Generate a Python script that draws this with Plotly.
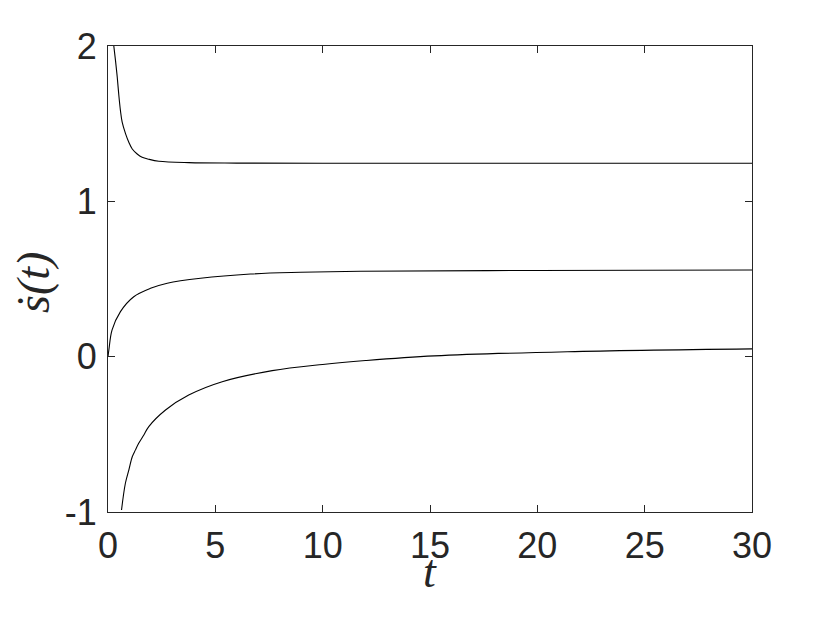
import plotly.graph_objects as go

# ─────────────────────────────────────────────
# DATA
# ─────────────────────────────────────────────
t_upper = [0.27, 0.35, 0.43, 0.50, 0.58, 0.66, 0.82, 0.97, 1.13, 1.36, 1.59, 1.9, 2.37, 3.76, 6.0, 10.0, 20.0, 30.0]
s_upper = [2.0, 1.906, 1.80, 1.69, 1.584, 1.51, 1.434, 1.38, 1.337, 1.305, 1.284, 1.271, 1.258, 1.249, 1.246, 1.245, 1.245, 1.245]

t_middle = [0.0, 0.04, 0.19, 0.58, 1.2, 1.98, 2.76, 4.31, 6.64, 8.97, 11.76, 20.0, 30.0]
s_middle = [0.0, 0.043, 0.172, 0.29, 0.386, 0.44, 0.473, 0.505, 0.532, 0.543, 0.550, 0.555, 0.558]

t_lower = [0.63, 0.81, 0.97, 1.13, 1.28, 1.43, 1.67, 1.9, 2.68, 3.76, 5.32, 7.65, 10.0, 12.0, 15.2, 21.4, 30.0]
s_lower = [-0.987, -0.815, -0.73, -0.644, -0.60, -0.558, -0.504, -0.45, -0.343, -0.247, -0.161, -0.09, -0.05, -0.025, 0.005, 0.032, 0.05]

x_ticks = [0, 5, 10, 15, 20, 25, 30]
y_ticks = [-1, 0, 1, 2]
y_tick_text = ["-1", "0", "1", "2"]

# ─────────────────────────────────────────────
# FIGURE
# ─────────────────────────────────────────────
fig = go.Figure()
for tt, ss in [(t_upper, s_upper), (t_middle, s_middle), (t_lower, s_lower)]:
    fig.add_trace(go.Scatter(
        x=tt, y=ss, mode="lines",
        line=dict(color="black", width=1.1, shape="spline", smoothing=1.0),
        showlegend=False,
    ))

axis_common = dict(
    showline=True, linecolor="#262626", linewidth=1,
    mirror="ticks", ticks="inside", ticklen=7, tickwidth=1, tickcolor="#262626",
    showgrid=False, zeroline=False,
    tickfont=dict(family="Liberation Sans, Arial, sans-serif", size=36, color="#262626"),
)
title_font = dict(family="Liberation Serif, DejaVu Serif, serif", size=46,
                  style="italic", color="#262626")

# page body has an 8px margin, so margins are shifted to compensate
fig.update_layout(
    width=830, height=623,
    margin=dict(l=100, r=86, t=38, b=119),
    paper_bgcolor="white", plot_bgcolor="white",
    xaxis=dict(range=[0, 30], tickvals=x_ticks, ticklabelstandoff=2, **axis_common),
    yaxis=dict(range=[-1, 2], tickvals=y_ticks, ticktext=y_tick_text,
               ticklabelstandoff=3, **axis_common),
)

# axis titles as annotations so they sit as close as in the reference
fig.add_annotation(text="t", xref="paper", yref="paper", x=0.5, y=0,
                   xanchor="center", yanchor="middle", yshift=-59,
                   showarrow=False, font=title_font)
fig.add_annotation(text="ṡ(t)", xref="paper", yref="paper", x=0, y=0.5,
                   xanchor="center", yanchor="middle", xshift=-75, yshift=-4,
                   textangle=-90, showarrow=False, font=title_font)

fig.write_html("out.html")
